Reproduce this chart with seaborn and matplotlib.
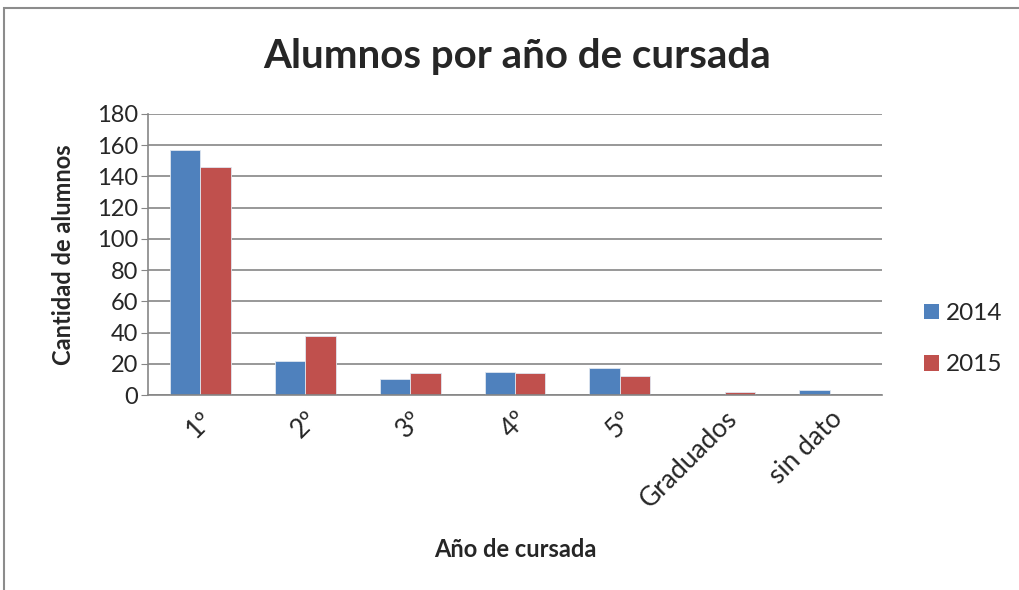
import matplotlib
matplotlib.use('Agg')
import matplotlib.pyplot as plt
from matplotlib.patches import Rectangle, Patch
import seaborn as sns
import pandas as pd

# datos
categorias = ['1º', '2º', '3º', '4º', '5º', 'Graduados', 'sin dato']
alumnos_2014 = [157, 22, 10, 15, 17, 0, 3]
alumnos_2015 = [146, 38, 14, 14, 12, 2, 0]
anios = ['2014', '2015']
colores = ['#4F81BD', '#C0504D']

df = pd.DataFrame({
    'categoria': categorias * 2,
    'anio': [anios[0]] * len(categorias) + [anios[1]] * len(categorias),
    'cantidad': alumnos_2014 + alumnos_2015,
})

sns.set_style('white')
plt.rcParams['font.family'] = ['Lato', 'DejaVu Sans']

fig = plt.figure(figsize=(10.19, 5.90), dpi=100)
ax = fig.add_axes([0.1452, 0.3305, 0.7204, 0.4763])

sns.barplot(data=df, x='categoria', y='cantidad', hue='anio', palette=colores,
            saturation=1, width=0.58, gap=0, ax=ax, legend=False,
            edgecolor='#dfe6f0', linewidth=0.6, errorbar=None)

ax.set_ylim(0, 180)
ax.set_yticks(range(0, 181, 20))
ax.set_xlim(-0.5, len(categorias) - 0.5)
ax.yaxis.grid(True, color='#868686', linewidth=1.2)
ax.set_axisbelow(True)
for s in ['top', 'right']:
    ax.spines[s].set_visible(False)
for s in ['left', 'bottom']:
    ax.spines[s].set_color('#868686')
    ax.spines[s].set_linewidth(1.2)
ax.tick_params(axis='y', length=5, color='#868686', labelsize=17, left=True, pad=2)
ax.tick_params(axis='x', length=0, labelsize=19, pad=8)
plt.setp(ax.get_xticklabels(), rotation=45, ha='right', rotation_mode='anchor')

ax.set_xlabel('Año de cursada', fontsize=17, fontweight='bold')
ax.xaxis.set_label_coords(0.5, -0.51)
ax.set_ylabel('Cantidad de alumnos', fontsize=17, fontweight='bold')
ax.yaxis.set_label_coords(-0.1, 0.5)

fig.text(0.507, 0.905, 'Alumnos por año de cursada', ha='center', va='center',
         fontsize=29, fontweight='bold')

handles = [Patch(facecolor=c, edgecolor='none') for c in colores]
fig.legend(handles, anios, loc='center left', bbox_to_anchor=(0.907, 0.425),
           frameon=False, fontsize=17.5, handlelength=0.6, handleheight=0.6,
           handletextpad=0.3, labelspacing=1.25, borderpad=0, borderaxespad=0)

# borde del area del grafico
fig.add_artist(Rectangle((0.004, -0.1), 1.2, 1.0864, transform=fig.transFigure,
                         fill=False, edgecolor='#8c8c8c', linewidth=1.5, clip_on=False))

fig.savefig('out.png', dpi=100)
